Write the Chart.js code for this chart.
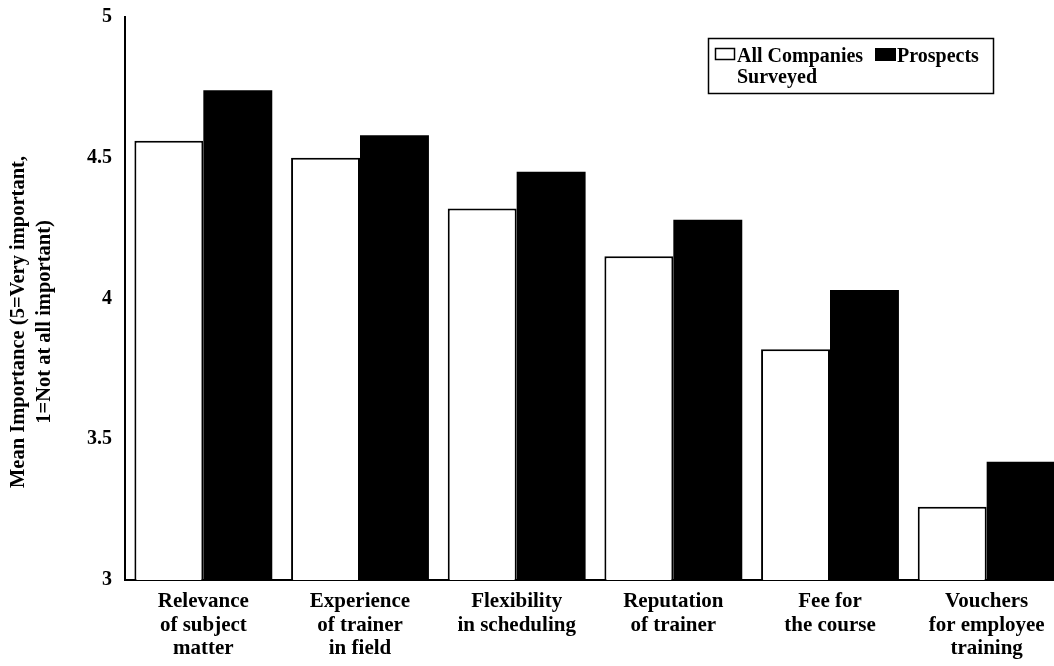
<!DOCTYPE html>
<html>
<head>
<meta charset="utf-8">
<script src="https://cdn.jsdelivr.net/npm/chart.js@4/dist/chart.umd.min.js"></script>
<style>
  html, body { margin: 0; padding: 0; background: #fff; overflow: hidden; }
  #wrap { position: relative; width: 1065px; height: 666px; }
</style>
</head>
<body>
<div id="wrap"><canvas id="c"></canvas></div>
<script>
// Factors rated by respondents (multi-line category labels)
const categories = [
  ['Relevance', 'of subject', 'matter'],
  ['Experience', 'of trainer', 'in field'],
  ['Flexibility', 'in scheduling'],
  ['Reputation', 'of trainer'],
  ['Fee for', 'the course'],
  ['Vouchers', 'for employee', 'training']
];
// Mean importance scores (5 = very important, 1 = not at all important)
const allCompanies = [4.56, 4.50, 4.32, 4.15, 3.82, 3.26];
const prospects    = [4.74, 4.58, 4.45, 4.28, 4.03, 3.42];
const seriesNames  = [['All Companies', 'Surveyed'], ['Prospects']];
const yTicks       = [3, 3.5, 4, 4.5, 5];
const yTitle       = ['Mean Importance (5=Very important,', '1=Not at all important)'];

const FONT = '"Liberation Serif", "Times New Roman", serif';

// Boxed legend in the upper right, with the first label wrapped on two lines
const boxLegend = {
  id: 'boxLegend',
  afterDraw(chart) {
    const ctx = chart.ctx;
    ctx.save();
    ctx.lineWidth = 1.5;
    ctx.strokeStyle = '#000';
    ctx.strokeRect(708.5, 38.5, 285, 55);
    ctx.font = 'bold 20px ' + FONT;
    ctx.textBaseline = 'alphabetic';
    ctx.textAlign = 'left';
    // swatch 1
    ctx.fillStyle = '#fff';
    ctx.fillRect(715, 48, 20, 12);
    ctx.strokeRect(715.5, 48.5, 19, 11);
    ctx.fillStyle = '#000';
    ctx.fillText(seriesNames[0][0], 737, 62);
    ctx.fillText(seriesNames[0][1], 737, 83);
    // swatch 2
    ctx.fillRect(875, 48, 21, 13);
    ctx.fillText(seriesNames[1][0], 897, 62);
    ctx.restore();
  }
};

// Two-line rotated axis title
const axisTitle = {
  id: 'axisTitle',
  afterDraw(chart) {
    const ctx = chart.ctx;
    ctx.save();
    ctx.font = 'bold 20.5px ' + FONT;
    ctx.fillStyle = '#000';
    ctx.textAlign = 'center';
    ctx.textBaseline = 'middle';
    ctx.translate(0, 322);
    ctx.rotate(-Math.PI / 2);
    ctx.fillText(yTitle[0], 0, 19);
    ctx.fillText(yTitle[1], 0, 45);
    ctx.restore();
  }
};

new Chart(document.getElementById('c'), {
  type: 'bar',
  data: {
    labels: categories,
    datasets: [
      {
        label: seriesNames[0].join(' '),
        data: allCompanies,
        backgroundColor: '#fff',
        borderColor: '#000',
        borderWidth: 2,
        categoryPercentage: 0.88,
        barPercentage: 1.0
      },
      {
        label: seriesNames[1].join(' '),
        data: prospects,
        backgroundColor: '#000',
        borderColor: '#000',
        borderWidth: 0,
        categoryPercentage: 0.88,
        barPercentage: 1.0
      }
    ]
  },
  options: {
    responsive: true,
    maintainAspectRatio: false,
    animation: false,
    layout: { padding: { top: 17, left: 0, right: 0, bottom: 0 } },
    plugins: {
      legend: { display: false },
      tooltip: { enabled: false }
    },
    scales: {
      x: {
        offset: true,
        grid: { display: false, drawTicks: false },
        border: { display: true, color: '#000', width: 2 },
        ticks: {
          color: '#000',
          font: { family: FONT, size: 21, weight: 'bold', lineHeight: 1.12 },
          padding: 10,
          maxRotation: 0,
          autoSkip: false
        },
        afterFit(scale) { scale.height = 86; scale.paddingLeft = 0; scale.paddingRight = 0; }
      },
      y: {
        min: 3,
        max: 5,
        afterBuildTicks(scale) { scale.ticks = yTicks.map(v => ({ value: v })); },
        grid: { display: false, drawTicks: false },
        border: { display: true, color: '#000', width: 2 },
        ticks: {
          color: '#000',
          font: { family: FONT, size: 20, weight: 'bold' },
          padding: 13,
          callback: v => String(v)
        },
        afterFit(scale) { scale.width = 125; scale.paddingTop = 0; scale.paddingBottom = 0; }
      }
    }
  },
  plugins: [boxLegend, axisTitle]
});
</script>
</body>
</html>
